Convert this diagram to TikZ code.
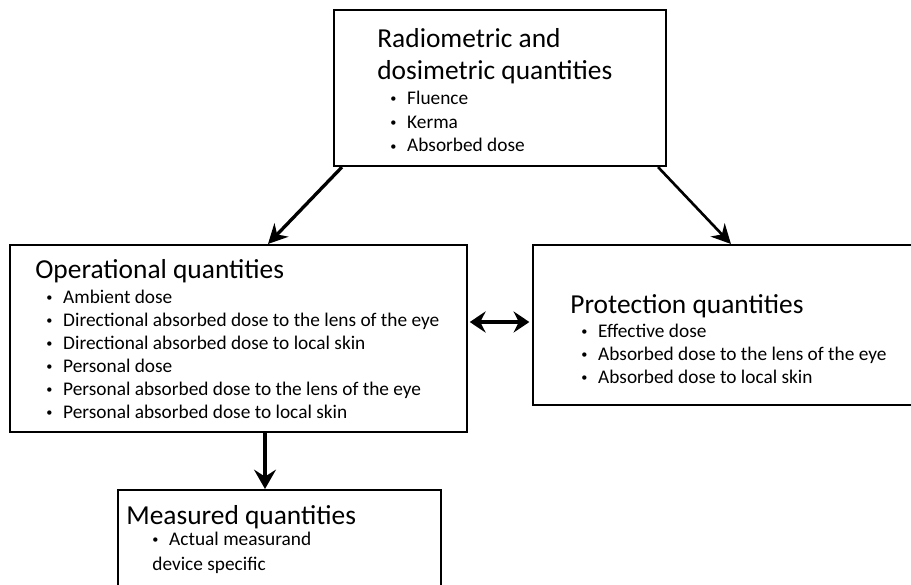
\documentclass[tikz,border=0pt]{standalone}
\usepackage{fontspec}
\setmainfont{Carlito}
\usetikzlibrary{arrows.meta,positioning,calc}
\newcommand{\bul}{\makebox[9.6pt][l]{\raisebox{0.2ex}{\scriptsize\textbullet}}}
\newcommand{\titlefont}{\fontsize{15.6}{18.8}\selectfont}
\newcommand{\itemfont}{\fontsize{11}{13}\selectfont}

\begin{document}
\begin{tikzpicture}[
  x=0.02cm, y=-0.02cm,
  box/.style={draw, line width=1.2pt, inner sep=0pt},
  title/.style={anchor=base west, inner sep=0pt, font=\titlefont, align=left},
  items/.style={anchor=base west, inner sep=0pt, font=\itemfont, align=left},
  arr/.style={line width=1.9pt, -{Stealth[length=11pt, width=11pt, inset=3.5pt]}},
  dbl/.style={line width=1.8pt, {Stealth[length=9pt, width=12pt, inset=3pt]}-{Stealth[length=9pt, width=12pt, inset=3pt]}}
]
  \useasboundingbox (0,0) rectangle (911,584);
  \clip (0,0) rectangle (911,584);

  % Boxes
  \node[box, minimum width=6.64cm, minimum height=3.12cm] (radio) at (500, 88) {};
  \node[box, minimum width=9.14cm, minimum height=3.74cm] (oper) at (238.5, 338.5) {};
  \node[box, minimum width=8.54cm, minimum height=3.2cm] (prot) at (746.5, 325) {};
  \node[box, minimum width=6.46cm, minimum height=3.0cm] (meas) at (279.5, 565) {};

  % Radiometric and dosimetric quantities (anchored at last baseline)
  \node[title] (radiotitle) at (377, 80) {Radiometric and\\[-0.5pt]dosimetric quantities};
  \node[items] (radiolist) at (390, 152) {\bul Fluence\\[0.6pt]\bul Kerma\\[0.6pt]\bul Absorbed dose};

  % Operational quantities
  \node[title] (opertitle) at (35, 278) {Operational quantities};
  \node[items] (operlist) at (46, 418) {\bul Ambient dose\\
    \bul Directional absorbed dose to the lens of the eye\\
    \bul Directional absorbed dose to local skin\\
    \bul Personal dose\\
    \bul Personal absorbed dose to the lens of the eye\\
    \bul Personal absorbed dose to local skin};

  % Protection quantities
  \node[title] (prottitle) at (570, 313) {Protection quantities};
  \node[items] (protlist) at (581, 383) {\bul Effective dose\\
    \bul Absorbed dose to the lens of the eye\\
    \bul Absorbed dose to local skin};

  % Measured quantities
  \node[title] (meastitle) at (126, 524) {Measured quantities};
  \node[items] (measlist) at (152, 570) {\bul Actual measurand\\[1pt]device specific};

  % Arrows
  \draw[arr] ([xshift=0.18cm]radio.south west) -- ([xshift=0.59cm]oper.north);
  \draw[arr, line width=1.5pt] ([xshift=-0.18cm]radio.south east) -- ([xshift=3.98cm]prot.north west);
  \draw[arr, line width=2.1pt, -{Stealth[length=11pt, width=12.5pt, inset=4pt]}] ([xshift=0.53cm]oper.south) -- ([xshift=0.53cm]oper.south |- meas.north);
  \draw[dbl, shorten <=1pt, shorten >=1.5pt] ([yshift=0.33cm]oper.east) -- ([yshift=0.33cm]oper.east -| prot.west);
\end{tikzpicture}
\end{document}
